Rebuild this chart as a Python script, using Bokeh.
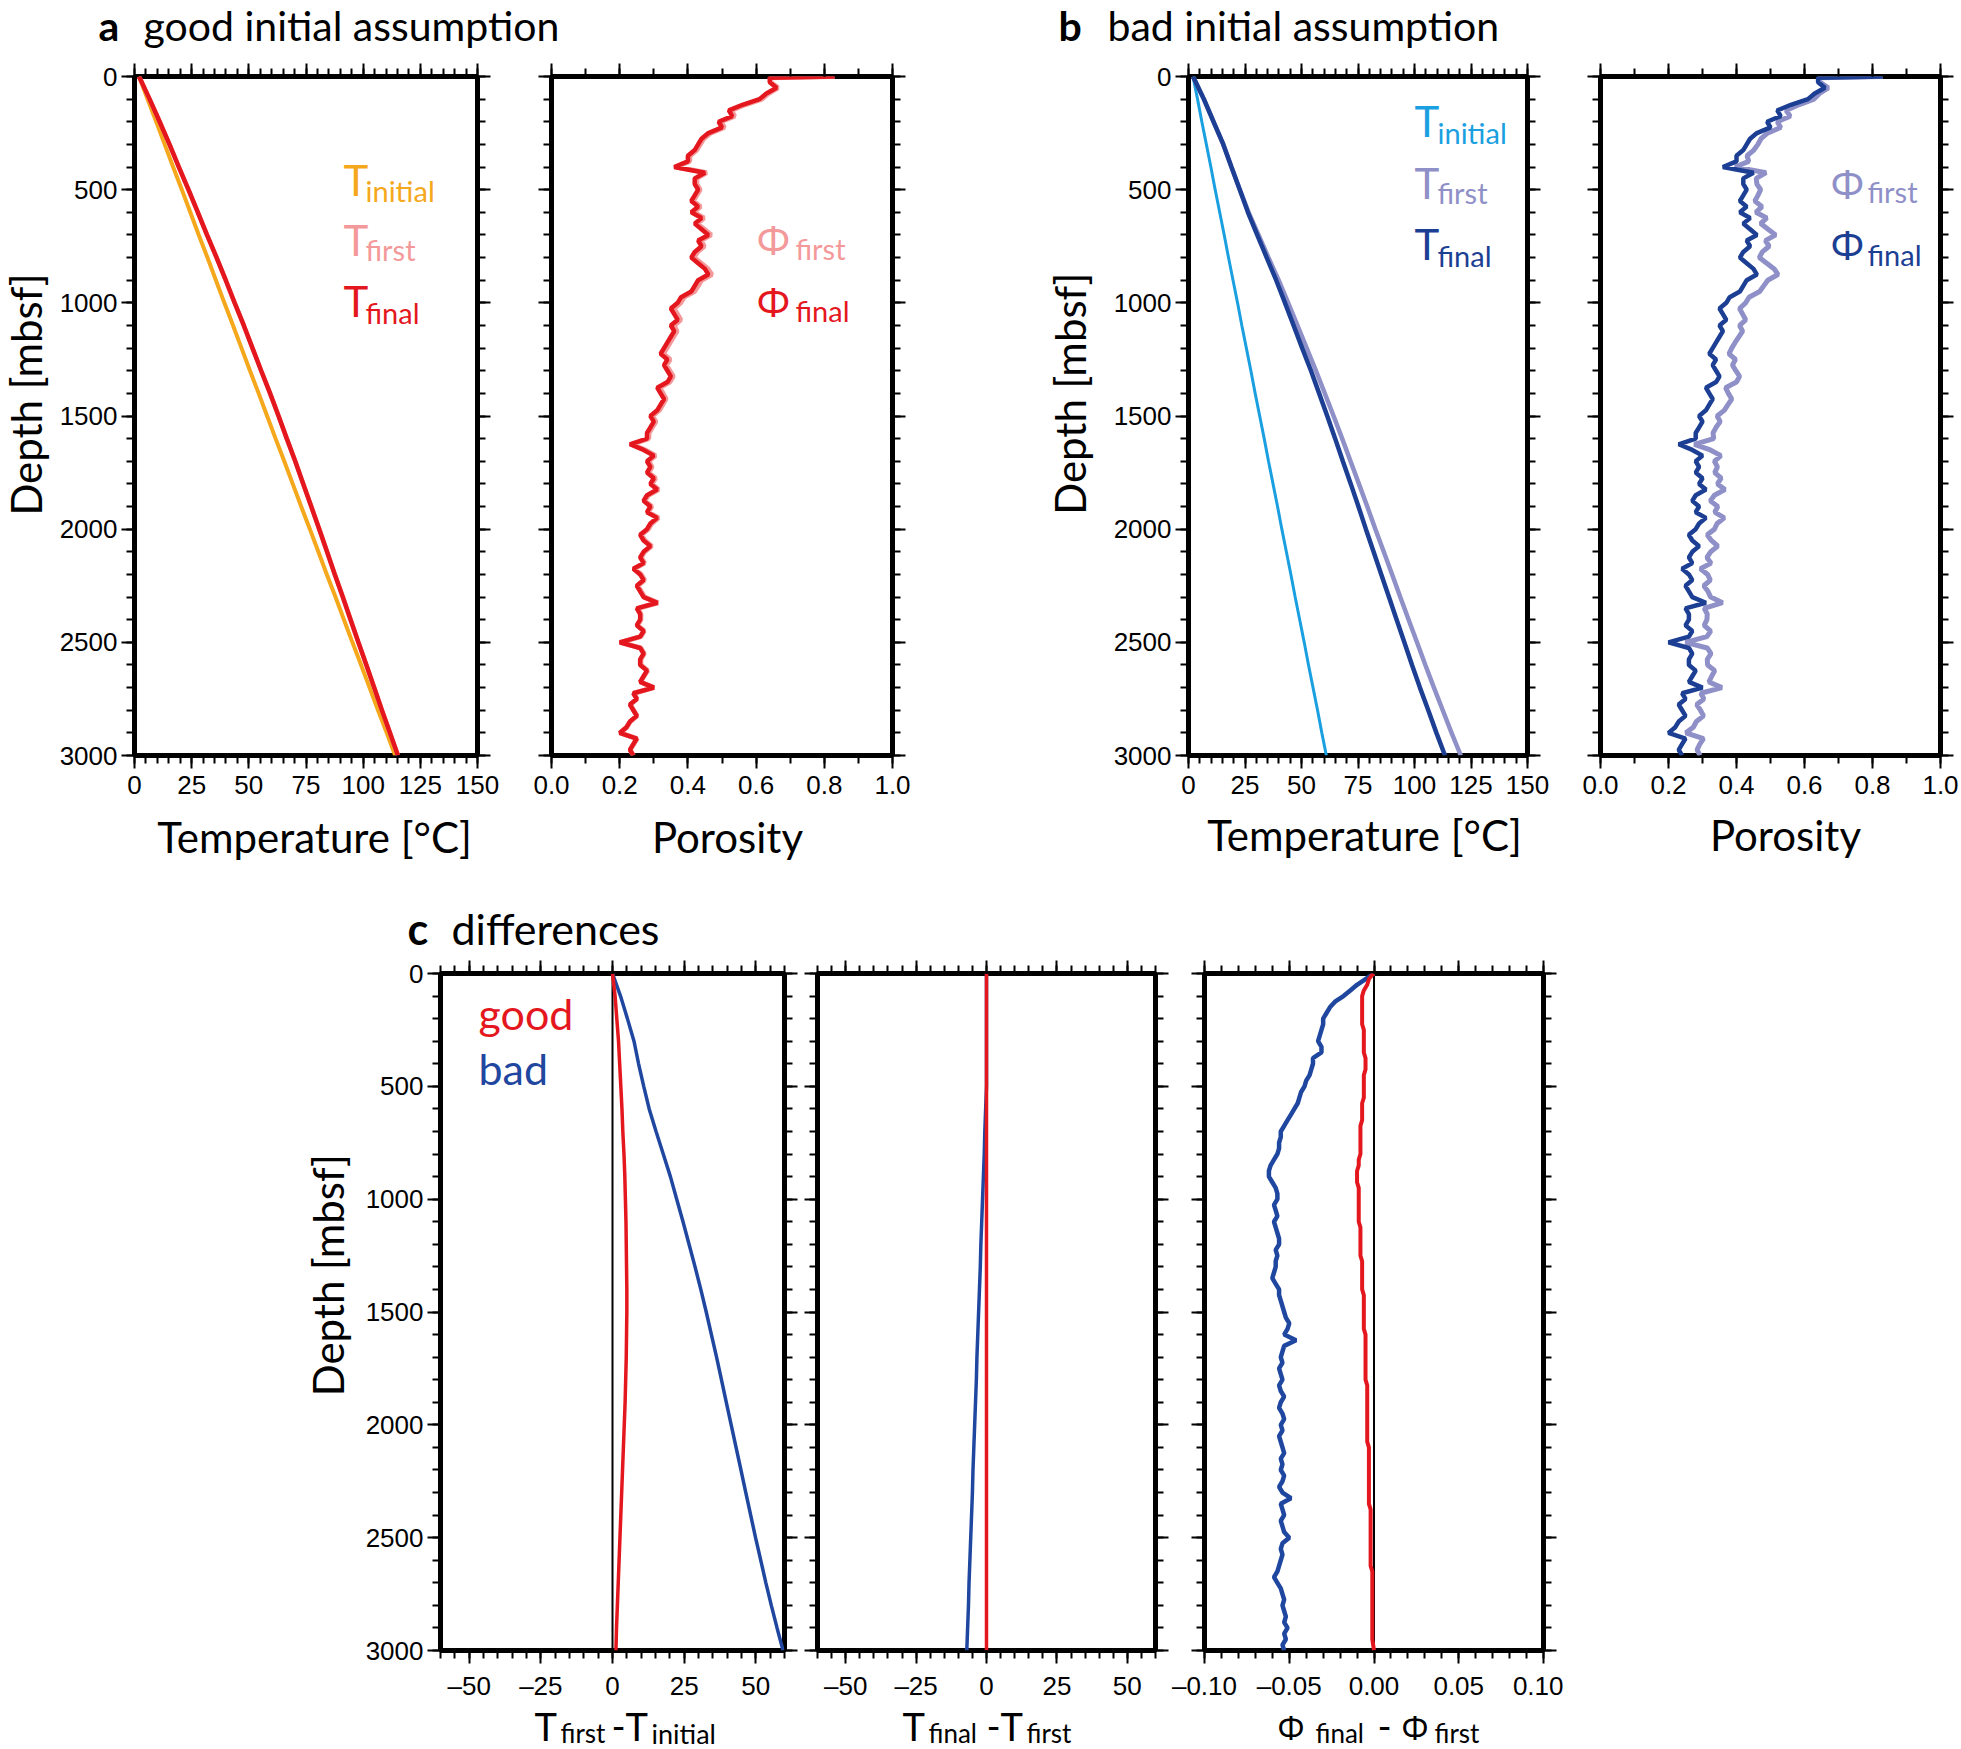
import numpy as np
from bokeh.plotting import figure
from bokeh.models import Range1d, LinearAxis, FixedTicker, CustomJSTickFormatter, Label, Span, Spacer
from bokeh.layouts import row, column
from bokeh.embed import file_html
from bokeh.resources import INLINE

# ---------------- data ----------------
depth_T = [0, 100, 200, 300, 400, 500, 600, 700, 800, 900, 1000, 1100, 1200, 1300, 1400, 1500,
           1600, 1700, 1800, 1900, 2000, 2100, 2200, 2300, 2400, 2500, 2600, 2700, 2800, 2900, 3000]
T_initial_good = [2.0, 5.7, 9.5, 13.2, 16.9, 20.7, 24.4, 28.1, 31.9, 35.6, 39.3, 43.1, 46.8, 50.5, 54.3, 58.0,
                  61.7, 65.5, 69.2, 72.9, 76.7, 80.4, 84.1, 87.9, 91.6, 95.3, 99.1, 102.8, 106.5, 110.3, 114.0]
T_initial_bad = [2.0, 4.0, 5.9, 7.9, 9.9, 11.8, 13.8, 15.8, 17.7, 19.7, 21.7, 23.6, 25.6, 27.6, 29.5, 31.5,
                 33.5, 35.4, 37.4, 39.4, 41.3, 43.3, 45.3, 47.2, 49.2, 51.2, 53.1, 55.1, 57.1, 59.0, 61.0]
# T_first - T_initial
dT1_good = [0.0, 0.9, 1.5, 2.1, 2.5, 2.9, 3.3, 3.6, 4.0, 4.3, 4.5, 4.7, 4.8, 4.9, 5.0, 5.0,
            4.9, 4.8, 4.6, 4.4, 4.1, 3.8, 3.5, 3.2, 2.9, 2.6, 2.3, 2.0, 1.7, 1.4, 1.2]
dT1_bad = [0.0, 2.8, 5.2, 7.5, 9.1, 10.9, 12.8, 15.2, 17.7, 20.2, 22.4, 24.6, 26.7, 28.8, 30.8, 32.7,
           34.5, 36.3, 38.0, 39.7, 41.4, 43.1, 44.8, 46.5, 48.2, 49.9, 51.7, 53.5, 55.4, 57.4, 59.5]
# T_final - T_first
dT2_good = [0.0] * 31
dT2_bad = [0.0, 0.0, 0.0, 0.0, 0.0, 0.0, -0.3, -0.6, -0.8, -1.1, -1.4, -1.7, -2.0, -2.2, -2.5, -2.8,
           -3.1, -3.4, -3.6, -3.9, -4.2, -4.5, -4.8, -5.0, -5.3, -5.6, -5.9, -6.2, -6.4, -6.7, -7.0]

depth_phi = [0, 5, 25, 50, 75, 100, 125, 150, 175, 200,
             225, 250, 275, 300, 325, 350, 375, 400, 425, 450,
             475, 500, 525, 550, 575, 600, 625, 650, 675, 700,
             725, 750, 775, 800, 825, 850, 875, 900, 925, 950,
             975, 1000, 1025, 1050, 1075, 1100, 1125, 1150, 1175, 1200,
             1225, 1250, 1275, 1300, 1325, 1350, 1375, 1400, 1425, 1450,
             1475, 1500, 1525, 1550, 1575, 1600, 1625, 1650, 1675, 1700,
             1725, 1750, 1775, 1800, 1825, 1850, 1875, 1900, 1925, 1950,
             1975, 2000, 2025, 2050, 2075, 2100, 2125, 2150, 2175, 2200,
             2225, 2250, 2275, 2300, 2325, 2350, 2375, 2400, 2425, 2450,
             2475, 2500, 2525, 2550, 2575, 2600, 2625, 2650, 2675, 2700,
             2725, 2750, 2775, 2800, 2825, 2850, 2875, 2900, 2925, 2950,
             2975, 3000]
phi_final = [0.83, 0.64, 0.64, 0.66, 0.63, 0.61, 0.56, 0.52, 0.53, 0.49,
             0.50, 0.46, 0.44, 0.43, 0.42, 0.40, 0.40, 0.36, 0.45, 0.42,
             0.42, 0.43, 0.42, 0.41, 0.43, 0.41, 0.44, 0.42, 0.44, 0.46,
             0.43, 0.44, 0.42, 0.41, 0.43, 0.45, 0.46, 0.43, 0.42, 0.41,
             0.38, 0.37, 0.35, 0.36, 0.37, 0.35, 0.36, 0.35, 0.34, 0.33,
             0.32, 0.34, 0.33, 0.34, 0.35, 0.34, 0.31, 0.32, 0.33, 0.32,
             0.31, 0.29, 0.30, 0.29, 0.28, 0.28, 0.23, 0.27, 0.30, 0.28,
             0.29, 0.28, 0.30, 0.29, 0.31, 0.28, 0.27, 0.29, 0.28, 0.31,
             0.29, 0.28, 0.26, 0.27, 0.29, 0.27, 0.26, 0.27, 0.24, 0.26,
             0.27, 0.25, 0.26, 0.27, 0.31, 0.25, 0.26, 0.26, 0.25, 0.27,
             0.26, 0.20, 0.26, 0.27, 0.26, 0.26, 0.28, 0.27, 0.26, 0.30,
             0.24, 0.25, 0.23, 0.24, 0.25, 0.23, 0.22, 0.20, 0.25, 0.24,
             0.23, 0.24]
# Phi_final - Phi_first
dphi_bad = [0.000, -0.001, -0.005, -0.010, -0.014, -0.018, -0.023, -0.026, -0.028, -0.030,
            -0.030, -0.031, -0.032, -0.033, -0.031, -0.031, -0.036, -0.036, -0.037, -0.038,
            -0.040, -0.041, -0.043, -0.044, -0.045, -0.047, -0.049, -0.051, -0.053, -0.055,
            -0.055, -0.056, -0.056, -0.057, -0.059, -0.061, -0.062, -0.062, -0.060, -0.058,
            -0.057, -0.057, -0.059, -0.058, -0.057, -0.059, -0.058, -0.057, -0.056, -0.056,
            -0.058, -0.057, -0.058, -0.058, -0.059, -0.060, -0.058, -0.056, -0.056, -0.055,
            -0.054, -0.053, -0.052, -0.050, -0.051, -0.053, -0.046, -0.053, -0.054, -0.055,
            -0.054, -0.056, -0.055, -0.054, -0.056, -0.055, -0.053, -0.055, -0.056, -0.054,
            -0.053, -0.055, -0.054, -0.056, -0.055, -0.054, -0.053, -0.055, -0.054, -0.055,
            -0.053, -0.054, -0.056, -0.054, -0.049, -0.055, -0.054, -0.053, -0.055, -0.054,
            -0.053, -0.050, -0.054, -0.055, -0.054, -0.055, -0.056, -0.057, -0.059, -0.057,
            -0.055, -0.054, -0.053, -0.054, -0.053, -0.052, -0.053, -0.051, -0.053, -0.052,
            -0.054, -0.053]
dphi_good = [0.000, -0.001, -0.003, -0.004, -0.006, -0.007, -0.007, -0.007, -0.007, -0.007,
             -0.007, -0.006, -0.006, -0.006, -0.006, -0.006, -0.005, -0.005, -0.005, -0.006,
             -0.006, -0.006, -0.006, -0.006, -0.007, -0.007, -0.007, -0.007, -0.008, -0.008,
             -0.008, -0.008, -0.008, -0.008, -0.009, -0.009, -0.010, -0.010, -0.010, -0.009,
             -0.009, -0.009, -0.009, -0.009, -0.009, -0.009, -0.008, -0.008, -0.008, -0.008,
             -0.008, -0.008, -0.007, -0.007, -0.007, -0.007, -0.007, -0.007, -0.006, -0.006,
             -0.006, -0.006, -0.006, -0.006, -0.006, -0.005, -0.005, -0.005, -0.005, -0.005,
             -0.005, -0.005, -0.005, -0.005, -0.004, -0.004, -0.004, -0.004, -0.004, -0.004,
             -0.004, -0.004, -0.004, -0.004, -0.004, -0.003, -0.003, -0.003, -0.003, -0.003,
             -0.003, -0.003, -0.003, -0.003, -0.003, -0.003, -0.002, -0.002, -0.002, -0.002,
             -0.002, -0.002, -0.002, -0.002, -0.002, -0.002, -0.002, -0.001, -0.001, -0.001,
             -0.001, -0.001, -0.001, -0.001, -0.001, -0.001, -0.001, -0.001, -0.001, -0.001,
             -0.0005, 0.000]

# tick labels
depth_ticks = [0, 500, 1000, 1500, 2000, 2500, 3000]
temp_ticks = [0, 25, 50, 75, 100, 125, 150]
por_ticks = [0.0, 0.2, 0.4, 0.6, 0.8, 1.0]
dT_ticks = [-50, -25, 0, 25, 50]
dphi_ticks = [-0.10, -0.05, 0.0, 0.05, 0.10]

# ---------------- derived curves ----------------
T_first_good = np.array(T_initial_good) + np.array(dT1_good)
T_final_good = T_first_good + np.array(dT2_good)
T_first_bad = np.array(T_initial_bad) + np.array(dT1_bad)
T_final_bad = T_first_bad + np.array(dT2_bad)
phi_f = np.array(phi_final)
phi_first_good = phi_f - np.array(dphi_good)
phi_first_bad = phi_f - np.array(dphi_bad)

# ---------------- styling ----------------
TICK_FONT = "Liberation Sans"
TXT = "Lato"
GREEK = "Noto Sans"
ORANGE = "#F5A81C"
PINK = "#F4999A"
RED = "#E4171E"
LBLUE = "#1AA0E0"
LAV = "#8F90C8"
DBLUE = "#1C3F94"
CBLUE = "#1F47A0"
K_MID = 0.387  # distance (in em) from the alphabetic baseline up to the middle of the text box

depth_minor = list(range(0, 3001, 100))
temp_minor = list(range(0, 151, 5))
por_minor = [round(0.1 * i, 1) for i in range(11)]
dT_minor = list(range(-60, 61, 5))
dphi_minor = [round(-0.10 + 0.01 * i, 2) for i in range(21)]

FMT_INT = "return tick.toFixed(0);"
FMT_1 = "return tick.toFixed(1);"
FMT_DT = "return (tick < 0 ? '\u2013' : '') + Math.abs(tick).toFixed(0);"
FMT_DPHI = "return (tick < -1e-9 ? '\u2013' : '') + Math.abs(tick).toFixed(2);"


def style_axis(ax, labeled, side, code):
    ax.axis_line_color = None
    ax.major_tick_line_color = "black"
    ax.major_tick_line_width = 2
    ax.minor_tick_line_color = "black"
    ax.minor_tick_line_width = 2
    ax.major_tick_out = 13
    ax.major_tick_in = 0
    ax.minor_tick_out = 8
    ax.minor_tick_in = 0
    if labeled:
        ax.formatter = CustomJSTickFormatter(code=code)
        ax.major_label_text_font = TICK_FONT
        ax.major_label_text_font_size = "26px"
        ax.major_label_text_color = "black"
        ax.major_label_standoff = 7 if side == "below" else 4
    else:
        ax.formatter = CustomJSTickFormatter(code="return '';")
        ax.major_label_text_font_size = "0px"
        ax.major_label_standoff = 0


def panel(g, fx0, fx1, fy0, fy1, xticks, xminor, xcode, left_labels):
    x0, x1, y0, y1, xa, xb = g
    p = figure(width=fx1 - fx0, height=fy1 - fy0,
               x_range=Range1d(xa, xb), y_range=Range1d(3000, 0),
               x_axis_type=None, y_axis_type=None,
               min_border_left=x0 - fx0, min_border_right=fx1 - x1,
               min_border_top=y0 - fy0, min_border_bottom=fy1 - y1,
               output_backend="svg", toolbar_location=None)
    p.outline_line_color = "black"
    p.outline_line_width = 5
    p.outline_line_alpha = 1.0
    p.background_fill_color = "white"
    p.border_fill_color = "white"
    for side, tk, mn, code, lab in [("below", xticks, xminor, xcode, True),
                                    ("above", xticks, xminor, None, False),
                                    ("left", depth_ticks, depth_minor, FMT_INT, left_labels),
                                    ("right", depth_ticks, depth_minor, None, False)]:
        ax = LinearAxis(ticker=FixedTicker(ticks=tk, minor_ticks=mn))
        style_axis(ax, lab, side, code)
        p.add_layout(ax, side)
    return p


def _label(x, y, s, size, color, font, style, align, angle):
    return Label(x=x, y=y, text=s, text_font=font, text_font_size=f"{size}px",
                 text_color=color, text_font_style=style, text_align=align,
                 text_baseline="middle", angle=angle, level="overlay")


def text(p, g, px, py, s, size, color="black", font=TXT, style="normal", align="left"):
    # label inside a panel's frame; (px, py) = left end of the baseline in picture pixels
    x0, x1, y0, y1, xa, xb = g
    py = py - K_MID * size
    xd = xa + (px - x0) * (xb - xa) / (x1 - x0)
    yd = (py - y0) * (3000.0 / (y1 - y0))
    p.add_layout(_label(xd, yd, s, size, color, font, style, align, 0.0))


def text_fig(fx0, fx1, fy0, fy1):
    # an empty figure whose frame is a piece of the page, used to hold texts
    p = figure(width=fx1 - fx0, height=fy1 - fy0, x_range=Range1d(fx0, fx1), y_range=Range1d(fy1, fy0),
               x_axis_type=None, y_axis_type=None, min_border=0,
               output_backend="svg", toolbar_location=None)
    p.outline_line_color = None
    p.background_fill_color = "white"
    p.border_fill_color = "white"
    return p


def ttext(p, px, py, s, size, color="black", font=TXT, style="normal", align="left", vertical=False):
    if vertical:
        p.add_layout(_label(px - K_MID * size, py, s, size, color, font, style, align, np.pi / 2))
    else:
        p.add_layout(_label(px, py - K_MID * size, s, size, color, font, style, align, 0.0))


# ---------------- title row (y 0..50) ----------------
tTop = text_fig(0, 1961, 0, 50)
ttext(tTop, 98, 40.5, "a", 41, style="bold")
ttext(tTop, 143, 40.5, "good initial assumption", 41)
ttext(tTop, 1058, 40.5, "b", 41, style="bold")
ttext(tTop, 1107, 40.5, "bad initial assumption", 41)

# ---------------- row 1 (y 50..810) ----------------
R1a, R1b = 50, 810
gaT = (134, 477, 76, 760, 0, 150)
gaP = (551, 892, 76, 760, 0, 1)
gbT = (1188, 1527, 76, 755, 0, 150)
gbP = (1600, 1940, 76, 755, 0, 1)

depA = text_fig(0, 52, R1a, R1b)
ttext(depA, 42, 406, "Depth [mbsf]", 42, align="center", vertical=True)

aT = panel(gaT, 52, 507, R1a, R1b, temp_ticks, temp_minor, FMT_INT, True)
aT.line(T_initial_good, depth_T, line_color=ORANGE, line_width=4)
aT.line(T_first_good, depth_T, line_color=PINK, line_width=4.5)
aT.line(T_final_good, depth_T, line_color=RED, line_width=4.5)
text(aT, gaT, 343, 197, "T", 42, ORANGE)
text(aT, gaT, 365, 202, "initial", 29, ORANGE)
text(aT, gaT, 343, 257, "T", 42, PINK)
text(aT, gaT, 365, 262, "first", 29, PINK)
text(aT, gaT, 343, 318, "T", 42, RED)
text(aT, gaT, 365, 325, "final", 29, RED)

aP = panel(gaP, 507, 922, R1a, R1b, por_ticks, por_minor, FMT_1, False)
aP.line(phi_first_good, depth_phi, line_color=PINK, line_width=5)
aP.line(phi_f, depth_phi, line_color=RED, line_width=4.5)
text(aP, gaP, 756, 256, "\u03a6", 40, PINK, font=GREEK)
text(aP, gaP, 795, 260, "first", 29, PINK)
text(aP, gaP, 756, 318, "\u03a6", 40, RED, font=GREEK)
text(aP, gaP, 795, 323, "final", 29, RED)

depB = text_fig(922, 1100, R1a, R1b)
ttext(depB, 1086, 405, "Depth [mbsf]", 42, align="center", vertical=True)

bT = panel(gbT, 1100, 1557, R1a, R1b, temp_ticks, temp_minor, FMT_INT, True)
bT.line(T_initial_bad, depth_T, line_color=LBLUE, line_width=3)
bT.line(T_first_bad, depth_T, line_color=LAV, line_width=4.5)
bT.line(T_final_bad, depth_T, line_color=DBLUE, line_width=4.5)
text(bT, gbT, 1414, 137, "T", 42, LBLUE)
text(bT, gbT, 1437, 143, "initial", 29, LBLUE)
text(bT, gbT, 1414, 199, "T", 42, LAV)
text(bT, gbT, 1437, 203, "first", 29, LAV)
text(bT, gbT, 1414, 260, "T", 42, DBLUE)
text(bT, gbT, 1437, 266, "final", 29, DBLUE)

bP = panel(gbP, 1557, 1961, R1a, R1b, por_ticks, por_minor, FMT_1, False)
bP.line(phi_first_bad, depth_phi, line_color=LAV, line_width=5)
bP.line(phi_f, depth_phi, line_color=DBLUE, line_width=4.5)
text(bP, gbP, 1830, 198, "\u03a6", 40, LAV, font=GREEK)
text(bP, gbP, 1867, 202, "first", 29, LAV)
text(bP, gbP, 1830, 259, "\u03a6", 40, DBLUE, font=GREEK)
text(bP, gbP, 1867, 265, "final", 29, DBLUE)

# ---------------- axis titles row (y 810..958) ----------------
tMid = text_fig(0, 1961, R1b, 958)
ttext(tMid, 314, 853, "Temperature [\u00b0C]", 42, align="center")
ttext(tMid, 727, 853, "Porosity", 42, align="center")
ttext(tMid, 1364, 851, "Temperature [\u00b0C]", 42, align="center")
ttext(tMid, 1785, 851, "Porosity", 42, align="center")
ttext(tMid, 407, 945, "c", 43, style="bold")
ttext(tMid, 451, 945, "differences", 43)

# ---------------- row 2 (y 958..1703) ----------------
R2a, R2b = 958, 1703
gc1 = (440, 784, 973, 1653, -60, 60)
gc2 = (817, 1155, 973, 1653, -60, 60)
gc3 = (1204, 1543, 973, 1653, -0.1, 0.1)

depC = text_fig(290, 356, R2a, R2b)
ttext(depC, 344, 1290, "Depth [mbsf]", 42, align="center", vertical=True)

c1 = panel(gc1, 356, 800, R2a, R2b, dT_ticks, dT_minor, FMT_DT, True)
c1.add_layout(Span(location=0, dimension="height", line_color="black", line_width=2, level="underlay"))
c1.line(dT1_bad, depth_T, line_color=CBLUE, line_width=3.5)
c1.line(dT1_good, depth_T, line_color=RED, line_width=3.5)
text(c1, gc1, 478, 1030, "good", 43, RED)
text(c1, gc1, 478, 1085, "bad", 43, CBLUE)

c2 = panel(gc2, 800, 1169, R2a, R2b, dT_ticks, dT_minor, FMT_DT, False)
c2.add_layout(Span(location=0, dimension="height", line_color="black", line_width=2, level="underlay"))
c2.line(dT2_bad, depth_T, line_color=CBLUE, line_width=3.5)
c2.line(dT2_good, depth_T, line_color=RED, line_width=3.5)

c3 = panel(gc3, 1169, 1563, R2a, R2b, dphi_ticks, dphi_minor, FMT_DPHI, False)
c3.add_layout(Span(location=0, dimension="height", line_color="black", line_width=2, level="underlay"))
c3.line(dphi_bad, depth_phi, line_color=CBLUE, line_width=4.5)
c3.line(dphi_good, depth_phi, line_color=RED, line_width=4)

# ---------------- bottom axis titles (y 1703..1749) ----------------
tBot = text_fig(0, 1961, R2b, 1749)
for (px, s, size, font, base) in [
        (534, "T", 38, TXT, 1740.5), (560, "first", 26, TXT, 1743), (611, "-", 38, TXT, 1740.5),
        (625, "T", 38, TXT, 1740.5), (651, "initial", 27, TXT, 1743),
        (902, "T", 38, TXT, 1740.5), (928, "final", 26, TXT, 1743), (986, "-", 38, TXT, 1740.5),
        (1000, "T", 38, TXT, 1740.5), (1026, "first", 26, TXT, 1743),
        (1277, "\u03a6", 32, GREEK, 1739), (1315, "final", 26, TXT, 1743), (1377, "-", 38, TXT, 1740.5),
        (1401, "\u03a6", 32, GREEK, 1739), (1434, "first", 26, TXT, 1743)]:
    ttext(tBot, px, base, s, size, font=font)

layout = column(
    tTop,
    row(depA, aT, aP, depB, bT, bP),
    tMid,
    row(Spacer(width=290, height=R2b - R2a), depC, c1, c2, c3),
    tBot,
)

open("out.html", "w").write(file_html(layout, INLINE))
